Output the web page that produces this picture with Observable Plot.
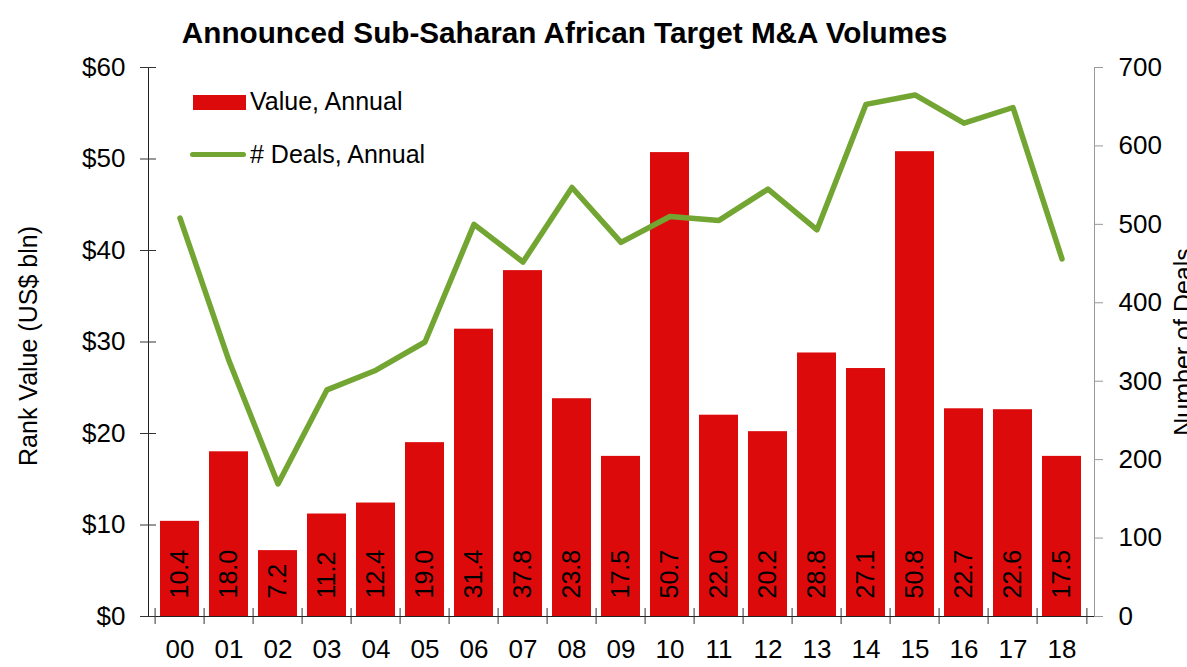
<!DOCTYPE html>
<html>
<head>
<meta charset="utf-8">
<script src="https://cdn.jsdelivr.net/npm/d3@7"></script>
<script src="https://cdn.jsdelivr.net/npm/@observablehq/plot@0.6"></script>
<style>
  html, body { margin: 0; padding: 0; background: #fff; overflow: hidden; }
  body { width: 1187px; height: 667px; position: relative; font-family: "Liberation Sans", Arial, sans-serif; color: #000; }
  #title { box-sizing: border-box; height: 50px; width: 1129px; padding-top: 18px; line-height: 29px; font-size: 29.7px; font-weight: bold; text-align: center; white-space: nowrap; }
  #chart svg { display: block; }
  .lg-text { position: absolute; font-size: 25px; line-height: 25px; white-space: nowrap; }
  .lg-bar { position: absolute; background: #dc0a0a; }
  .lg-line { position: absolute; background: #72a532; border-radius: 3px; }
</style>
</head>
<body>
<div id="title">Announced Sub-Saharan African Target M&amp;A Volumes</div>
<div id="chart"></div>
<div class="lg-bar" style="left:193px; top:95px; width:53px; height:15px;"></div>
<div class="lg-text" style="left:250px; top:89px;">Value, Annual</div>
<div class="lg-line" style="left:190px; top:151.5px; width:56px; height:5px;"></div>
<div class="lg-text" style="left:250px; top:142px;"># Deals, Annual</div>
<script>
// ---- data ----
const years = ["00","01","02","03","04","05","06","07","08","09","10","11","12","13","14","15","16","17","18"];
const values = [10.4, 18.0, 7.2, 11.2, 12.4, 19.0, 31.4, 37.8, 23.8, 17.5, 50.7, 22.0, 20.2, 28.8, 27.1, 50.8, 22.7, 22.6, 17.5];
const deals = [508, 326, 169, 289, 314, 350, 500, 452, 547, 477, 510, 505, 545, 493, 653, 665, 629, 649, 456];
const leftTicks = [0, 10, 20, 30, 40, 50, 60];
const rightTicks = [0, 100, 200, 300, 400, 500, 600, 700];
const leftLabel = "Rank Value (US$ bln)";
const rightLabel = "Number of Deals";

// ---- layout ----
const width = 1187, height = 617;
const marginLeft = 148, marginRight = 93, marginTop = 17, marginBottom = 51;
const step = (width - marginLeft - marginRight) / years.length;
const k = 60 / 700; // right-axis units -> left-axis units

const data = years.map((y, i) => ({year: y, value: values[i], deals: deals[i]}));

const chart = Plot.plot({
  width, height, marginLeft, marginRight, marginTop, marginBottom,
  style: {fontFamily: "'Liberation Sans', Arial, sans-serif", fontSize: "26px", color: "#000", background: "#fff", overflow: "visible"},
  x: {type: "band", domain: years, paddingInner: 0.2, paddingOuter: 0.1, label: null},
  y: {domain: [0, 60], label: null},
  marks: [
    Plot.barY(data, {x: "year", y: "value", fill: "#dc0a0a"}),
    Plot.text(data, {x: "year", y: 0, text: d => d.value.toFixed(1), rotate: -90, textAnchor: "start", lineAnchor: "middle", dy: -18, fontSize: 25, fill: "#000"}),
    Plot.line(data, {x: "year", y: d => d.deals * k, stroke: "#72a532", strokeWidth: 5.5, strokeLinecap: "round", strokeLinejoin: "round"}),
    // frame lines
    Plot.frame({anchor: "left", stroke: "#222"}),
    Plot.frame({anchor: "right", stroke: "#999"}),
    Plot.ruleY([0], {stroke: "#222"}),
    // left axis: crossing ticks + labels
    Plot.axisY({anchor: "left", ticks: leftTicks, tickSize: 16, dx: 8, tickFormat: () => "", stroke: "#333", label: null}),
    Plot.axisY({anchor: "left", ticks: leftTicks, tickSize: 0, tickPadding: 23, tickFormat: d => "$" + d, fill: "#000", fontSize: 26, label: null}),
    // right axis
    Plot.axisY({anchor: "right", ticks: rightTicks.map(d => d * k), tickSize: 8, tickPadding: 16, tickFormat: d => String(Math.round(d / k)), stroke: "#999", fill: "#000", fontSize: 26, label: null}),
    // x axis: ticks at band boundaries
    Plot.axisX({anchor: "bottom", tickSize: 16, dx: -step / 2, dy: -8, tickFormat: () => "", stroke: "#333", label: null}),
    Plot.axisX({anchor: "bottom", ticks: [years[years.length - 1]], tickSize: 16, dx: step / 2, dy: -8, tickFormat: () => "", stroke: "#333", label: null}),
    Plot.axisX({anchor: "bottom", tickSize: 0, tickPadding: 23, fill: "#000", fontSize: 26, label: null}),
    // axis titles
    Plot.text([leftLabel], {text: d => d, frameAnchor: "left", rotate: -90, textAnchor: "middle", lineAnchor: "top", dx: 19 - marginLeft, dy: 4, fontSize: 25, fill: "#000"}),
    Plot.text([rightLabel], {text: d => d, frameAnchor: "right", rotate: -90, textAnchor: "middle", lineAnchor: "top", dx: 80, dy: 0, fontSize: 25, fill: "#000"})
  ]
});
document.getElementById("chart").appendChild(chart);
</script>
</body>
</html>
